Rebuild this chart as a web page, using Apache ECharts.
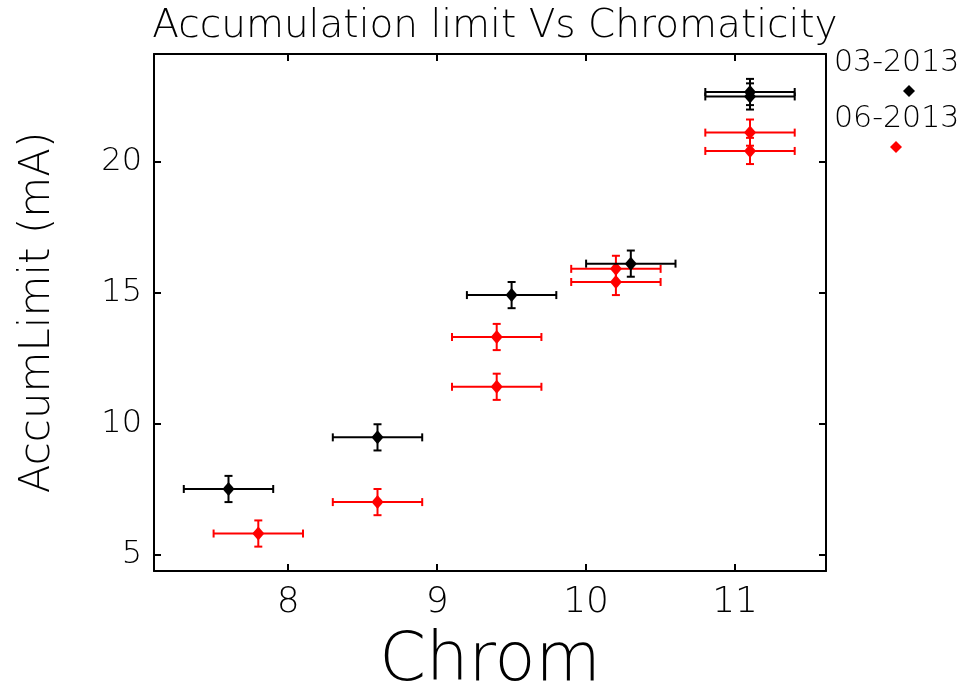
<!DOCTYPE html>
<html>
<head>
<meta charset="utf-8">
<script src="https://cdn.jsdelivr.net/npm/echarts@6/dist/echarts.min.js"></script>
<style>
  html, body { margin: 0; padding: 0; background: #fff; }
  #chart { width: 961px; height: 681px; }
</style>
</head>
<body>
<div id="chart"></div>
<script>
// values
const march2013 = [   // [chrom, accumLimit, xErr, yErr]
  [7.6, 7.5, 0.3, 0.5],
  [8.6, 9.47, 0.3, 0.5],
  [9.5, 14.9, 0.3, 0.5],
  [10.3, 16.1, 0.3, 0.5],
  [11.1, 22.65, 0.3, 0.5],
  [11.1, 22.48, 0.3, 0.5]
];
const june2013 = [
  [7.8, 5.8, 0.3, 0.5],
  [8.6, 7.0, 0.3, 0.5],
  [9.4, 13.3, 0.3, 0.5],
  [9.4, 11.4, 0.3, 0.5],
  [10.2, 15.9, 0.3, 0.5],
  [10.2, 15.4, 0.3, 0.5],
  [11.1, 21.1, 0.3, 0.5],
  [11.1, 20.4, 0.3, 0.5]
];
const xTicks = [8, 9, 10, 11];
const yTicks = [5, 10, 15, 20];

const FONT = 'DejaVu Sans';

const chart = echarts.init(document.getElementById('chart'));

function renderErr(params, api) {
  const x = api.value(0), y = api.value(1), xe = api.value(2), ye = api.value(3);
  const c = api.coord([x, y]);
  const l = api.coord([x - xe, y]);
  const r = api.coord([x + xe, y]);
  const t = api.coord([x, y + ye]);
  const b = api.coord([x, y - ye]);
  const color = api.visual('color');
  const st = { stroke: color, lineWidth: 2 };
  const cap = 4;
  const line = (x1, y1, x2, y2) => ({ type: 'line', shape: { x1, y1, x2, y2 }, style: st });
  return {
    type: 'group',
    children: [
      line(l[0], l[1], r[0], r[1]),
      line(l[0], l[1] - cap, l[0], l[1] + cap),
      line(r[0], r[1] - cap, r[0], r[1] + cap),
      line(t[0], t[1], b[0], b[1]),
      line(t[0] - cap, t[1], t[0] + cap, t[1]),
      line(b[0] - cap, b[1], b[0] + cap, b[1]),
      {
        type: 'polygon',
        shape: { points: [[c[0], c[1] - 7], [c[0] + 6, c[1]], [c[0], c[1] + 7], [c[0] - 6, c[1]]] },
        style: { fill: color }
      }
    ]
  };
}

const boxAxis = {
  axisLine: { show: true, lineStyle: { color: '#000', width: 2 } },
  axisTick: { show: true, inside: true, length: 7, lineStyle: { color: '#000', width: 2 } },
  splitLine: { show: false }
};

const option = {
  animation: false,
  backgroundColor: '#fff',
  title: {
    text: 'Accumulation limit Vs Chromaticity',
    left: 490,
    textAlign: 'center',
    top: 2,
    textStyle: { fontFamily: FONT, fontWeight: 200, fontSize: 39, color: '#000' }
  },
  grid: { left: 154, right: 135, top: 54, bottom: 110, outerBoundsMode: 'none', containLabel: false },
  xAxis: [
    Object.assign({}, boxAxis, {
      type: 'value', min: 7.1, max: 11.61,
      name: 'Chrom', nameLocation: 'middle', nameGap: 58,
      nameTextStyle: { fontFamily: FONT, fontWeight: 200, fontSize: 67, color: '#000' },
      axisTick: Object.assign({}, boxAxis.axisTick, { customValues: xTicks }),
      axisLabel: { customValues: xTicks, fontFamily: FONT, fontWeight: 200, fontSize: 36, color: '#000', margin: 14 }
    }),
    Object.assign({}, boxAxis, {
      type: 'value', min: 7.1, max: 11.61, position: 'top',
      axisTick: Object.assign({}, boxAxis.axisTick, { customValues: xTicks }),
      axisLabel: { show: false }
    })
  ],
  yAxis: [
    Object.assign({}, boxAxis, {
      type: 'value', min: 4.37, max: 24.1,
      name: 'AccumLimit (mA)', nameLocation: 'middle', nameGap: 95, nameRotate: 90,
      nameTextStyle: { fontFamily: FONT, fontWeight: 200, fontSize: 42, color: '#000' },
      axisTick: Object.assign({}, boxAxis.axisTick, { customValues: yTicks }),
      axisLabel: { customValues: yTicks, fontFamily: FONT, fontWeight: 200, fontSize: 32, color: '#000', margin: 12 }
    }),
    Object.assign({}, boxAxis, {
      type: 'value', min: 4.37, max: 24.1, position: 'right',
      axisTick: Object.assign({}, boxAxis.axisTick, { customValues: yTicks }),
      axisLabel: { show: false }
    })
  ],
  graphic: [
    { type: 'text', left: 834, top: 48, style: { text: '03-2013', font: '200 30px "DejaVu Sans"', fill: '#000' } },
    { type: 'polygon', shape: { points: [[909, 85], [915, 91], [909, 97], [903, 91]] }, style: { fill: '#000' } },
    { type: 'text', left: 834, top: 104, style: { text: '06-2013', font: '200 30px "DejaVu Sans"', fill: '#000' } },
    { type: 'polygon', shape: { points: [[896, 141], [902, 147], [896, 153], [890, 147]] }, style: { fill: '#ff0000' } }
  ],
  series: [
    {
      name: '03-2013', type: 'custom', renderItem: renderErr,
      itemStyle: { color: '#000' }, data: march2013, z: 3
    },
    {
      name: '06-2013', type: 'custom', renderItem: renderErr,
      itemStyle: { color: '#ff0000' }, data: june2013, z: 2
    }
  ]
};
chart.setOption(option);
</script>
</body>
</html>
